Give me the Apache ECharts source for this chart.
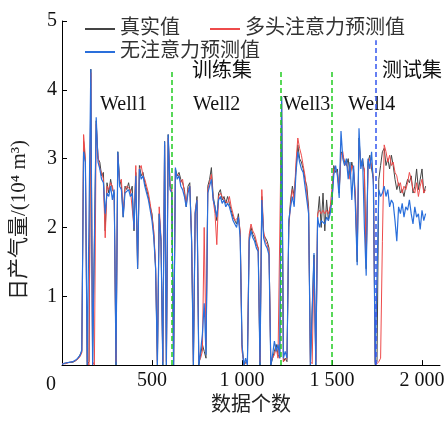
<!DOCTYPE html>
<html>
<head>
<meta charset="utf-8">
<script src="https://cdn.jsdelivr.net/npm/echarts@6/dist/echarts.min.js"></script>
<style>
    html, body { margin: 0; padding: 0; background: #fff; }
    #chart { width: 448px; height: 421px; }
</style>
</head>
<body>
<div id="chart"></div>
<script>
    // 采样间隔(数据个数)
    var sampleStep = 10;

    // 真实值
    var realData = [
        0.02, 0.02, 0.03, 0.02, 0.04, 0.05, 0.04, 0.06, 0.07, 0.1,
        0.12, 0.2, 3.25, 2.95, 0, 0.05, 4.3, 0.02, 0.03, 3.55,
        3.0, 2.95, 2.75, 2.8, 1.95, 2.65, 2.5, 2.7, 2.55, 2.5,
        0, 3.1, 2.7, 2.6, 2.15, 2.6, 2.55, 2.65, 2.5, 2.6,
        1.95, 2.8, 1.4, 2.9, 2.75, 2.8, 2.65, 2.55, 2.45, 2.3,
        2.2, 1.9, 1.4, 0, 2.2, 1.8, 0, 3.25, 0, 3.35,
        2.6, 2.55, 0, 2.85, 2.75, 2.8, 2.7, 2.65, 2.55, 2.3,
        2.6, 2.65, 1.8, 0, 2.2, 2.45, 0, 0.15, 0.3, 0.2,
        0.1, 2.6, 2.7, 2.87, 2.45, 2.3, 2.1, 2.5, 2.55, 2.4,
        2.45, 2.35, 2.45, 2.35, 2.25, 2.15, 2.1, 2.05, 2.2, 1.9,
        0.3, 0, 0.05, 0.02, 1.85, 2.0, 1.9, 1.85, 1.75, 1.7,
        0, 2.45, 1.9, 1.85, 1.8, 1.7, 0, 0.1, 0.2, 0.3,
        0.15, 0.1, 3.9, 0.05, 0.1, 0.05, 2.05, 2.4, 2.6, 2.45,
        2.85, 3.2, 3.0, 2.95, 2.85, 2.7, 2.6, 2.3, 0, 0,
        1.6, 0, 2.15, 2.45, 2.0, 2.5, 1.95, 2.4, 2.1, 2.3,
        2.35, 2.9, 2.8, 2.85, 2.5, 3.1, 3.05, 2.95, 2.9, 3.0,
        2.75, 2.95, 2.8, 2.4, 1.5, 3.3, 2.9, 3.0, 2.8, 1.4,
        2.95, 3.05, 2.85, 2.7, 0, 0.05, 2.7, 2.9, 3.1, 3.15,
        2.9, 3.0, 2.85, 3.05, 2.9, 2.7, 2.55, 2.65, 2.5, 2.55,
        2.45, 2.6, 2.7, 2.65, 2.75, 2.5, 2.6, 2.85, 2.55, 2.7,
        2.85, 2.5, 2.6
    ];

    // 多头注意力预测值
    var attnData = [
        0.02, 0.03, 0.02, 0.03, 0.04, 0.04, 0.05, 0.06, 0.07, 0.09,
        0.12, 0.18, 3.35, 3.0, 0.05, 0, 4.25, 0.05, 0, 3.5,
        3.05, 2.85, 2.8, 2.7, 1.85, 2.6, 2.55, 2.65, 2.6, 2.45,
        0.05, 3.05, 2.65, 2.7, 2.2, 2.55, 2.6, 2.6, 2.55, 2.55,
        2.0, 2.9, 1.45, 2.85, 2.9, 2.75, 2.7, 2.6, 2.5, 2.35,
        2.15, 1.95, 1.45, 0.05, 2.3, 1.85, 0.05, 3.2, 0.05, 3.3,
        2.65, 2.5, 0.05, 2.8, 2.8, 2.75, 2.65, 2.7, 2.5, 2.35,
        2.55, 2.6, 1.85, 0.05, 2.25, 2.4, 0.05, 0.1, 0.2, 2.0,
        0.3, 2.55, 2.65, 2.77, 2.4, 2.2, 1.75, 2.45, 2.5, 2.45,
        2.4, 2.4, 2.35, 2.45, 2.3, 2.2, 2.1, 2.1, 2.15, 1.95,
        0.2, 0.05, 0.02, 0.05, 1.9, 2.05, 1.95, 1.9, 1.8, 1.7,
        0.05, 2.55, 1.95, 1.8, 1.75, 1.65, 0.05, 0.1, 0.15, 0.25,
        0.1, 0.1, 3.8, 0.05, 0.05, 0.1, 2.0, 2.35, 2.55, 2.4,
        2.95, 3.3, 3.15, 3.05, 2.9, 2.75, 2.5, 2.25, 0.05, 0.02,
        1.55, 0.05, 2.2, 2.25, 2.2, 2.25, 2.2, 2.25, 2.2, 2.3,
        2.3, 2.85, 2.85, 2.8, 2.55, 3.05, 3.1, 2.9, 2.95, 2.95,
        2.7, 2.9, 2.85, 2.5, 1.6, 3.2, 2.95, 2.95, 2.85, 1.5,
        2.9, 3.0, 2.9, 2.75, 0.05, 0.02, 0.05, 0.1, 1.8, 3.2,
        3.1, 2.95, 3.05, 2.9, 2.95, 2.8, 2.75, 2.6, 2.65, 2.5,
        2.6, 2.55, 2.65, 2.8, 2.7, 2.55, 2.5, 2.65, 2.45, 2.6,
        2.7, 2.5, 2.55
    ];

    // 无注意力预测值
    var noAttnData = [
        0.01, 0.02, 0.03, 0.04, 0.04, 0.06, 0.05, 0.07, 0.08, 0.1,
        0.14, 0.22, 3.1, 2.95, 0, 0, 4.3, 0, 0.02, 3.6,
        2.95, 2.85, 2.7, 2.65, 2.2, 2.5, 2.45, 2.6, 2.4, 2.55,
        0, 3.1, 2.6, 2.55, 2.15, 2.5, 2.5, 2.55, 2.45, 2.5,
        1.97, 2.75, 1.4, 2.85, 2.7, 2.75, 2.6, 2.5, 2.4, 2.25,
        2.1, 1.85, 1.4, 0, 2.2, 1.8, 0, 3.25, 0, 3.35,
        2.55, 2.5, 0, 2.87, 2.7, 2.75, 2.6, 2.55, 2.45, 2.3,
        2.5, 2.6, 1.8, 0, 2.2, 2.4, 0, 0.2, 0.45, 0.9,
        0.15, 2.5, 2.6, 2.7, 2.4, 2.3, 2.15, 2.4, 2.45, 2.35,
        2.4, 2.3, 2.35, 2.3, 2.2, 2.1, 2.05, 2.0, 2.15, 1.85,
        0.3, 0, 0.1, 0, 1.8, 1.95, 1.85, 1.8, 1.7, 1.65,
        0, 2.4, 1.85, 1.75, 1.7, 1.6, 0, 0.15, 0.35, 0.2,
        0.3, 0.1, 3.9, 0.1, 0.2, 0.1, 2.1, 2.3, 2.45, 2.3,
        2.8, 3.1, 2.95, 2.85, 2.8, 2.6, 2.4, 2.2, 0, 0,
        1.63, 0, 2.15, 2.0, 2.1, 2.1, 2.05, 2.15, 2.1, 2.2,
        2.4, 2.76, 2.9, 2.75, 2.43, 3.4, 3.0, 2.9, 3.0, 2.7,
        2.95, 2.4, 2.9, 2.3, 1.45, 3.44, 2.85, 3.0, 2.0, 1.3,
        3.0, 2.85, 3.1, 2.6, 0.02, 0, 2.55, 2.45, 2.5, 2.6,
        2.45, 2.55, 2.3, 2.4, 2.35, 2.1, 1.8, 2.3, 2.2, 2.35,
        2.15, 2.3, 2.25, 2.4, 2.2, 2.05, 2.3, 2.15, 2.2, 1.97,
        2.25, 2.1, 2.2
    ];

    // 分段线位置: 训练集井分界 / 测试集分界
    var trainSplits = [608, 1217, 1500];
    var testSplit = 1745;
    var xTicks = [0, 500, 1000, 1500, 2000];

    var fontFamily = 'Times New Roman, Liberation Serif, Noto Sans CJK SC, serif';

    function toPairs(arr) {
        return arr.map(function(v, i) {
            return [i * sampleStep, v];
        });
    }

    function vLine(x, top, color) {
        return [{ coord: [x, 0], lineStyle: { color: color } }, { coord: [x, top] }];
    }

    function label(text, left, top) {
        return { type: 'text', left: left, top: top, style: { text: text, font: '20px ' + fontFamily, fill: '#111' } };
    }

    var chart = echarts.init(document.getElementById('chart'));

    var splitLines = trainSplits.map(function(x) {
        return vLine(x, 4.27, '#22cc22');
    });
    splitLines.push(vLine(testSplit, 4.72, '#3355ee'));

    var legendText = { fontSize: 20, color: '#333', fontFamily: fontFamily };

    var option = {
        animation: false,
        color: ['#444444', '#ee4b4b', '#2a6fdb'],
        textStyle: { fontFamily: fontFamily },
        grid: { left: 62, right: 8, top: 21, bottom: 50 },
        legend: [{
            data: ['真实值', '多头注意力预测值'],
            left: 80,
            top: 14,
            itemWidth: 30,
            itemHeight: 2,
            itemGap: 30,
            icon: 'rect',
            textStyle: legendText
        }, {
            data: ['无注意力预测值'],
            left: 80,
            top: 37,
            itemWidth: 30,
            itemHeight: 2,
            icon: 'rect',
            textStyle: legendText
        }],
        xAxis: {
            type: 'value',
            min: 0,
            max: 2100,
            interval: 500,
            name: '数据个数',
            nameLocation: 'middle',
            nameGap: 27,
            nameTextStyle: { fontSize: 20, color: '#222', verticalAlign: 'top', fontFamily: fontFamily },
            axisLine: { lineStyle: { color: '#000', width: 1 } },
            axisTick: { inside: true, length: 5, customValues: xTicks, lineStyle: { color: '#000' } },
            axisLabel: {
                customValues: xTicks.slice(1),
                fontSize: 20,
                fontFamily: fontFamily,
                color: '#111',
                margin: 6,
                formatter: function(v) {
                    return v >= 1000 ? Math.floor(v / 1000) + ' ' + String(v % 1000).padStart(3, '0') : String(v);
                }
            },
            splitLine: { show: false }
        },
        yAxis: {
            type: 'value',
            min: 0,
            max: 5,
            interval: 1,
            axisLine: { show: true, lineStyle: { color: '#000', width: 1 } },
            axisTick: { show: true, inside: true, length: 5, lineStyle: { color: '#000' } },
            axisLabel: {
                fontSize: 20,
                fontFamily: fontFamily,
                color: '#111',
                margin: 5,
                formatter: function(v) {
                    return v === 0 ? '' : String(v);
                }
            },
            splitLine: { show: false }
        },
        series: [{
            name: '真实值',
            type: 'line',
            data: toPairs(realData),
            showSymbol: false,
            lineStyle: { width: 1 }
        }, {
            name: '多头注意力预测值',
            type: 'line',
            data: toPairs(attnData),
            showSymbol: false,
            lineStyle: { width: 1 }
        }, {
            name: '无注意力预测值',
            type: 'line',
            data: toPairs(noAttnData),
            showSymbol: false,
            lineStyle: { width: 1.2 },
            markLine: {
                silent: true,
                symbol: ['none', 'none'],
                label: { show: false },
                lineStyle: { type: [5, 3], width: 1.5 },
                data: splitLines
            }
        }],
        graphic: [
            // y轴标题
            {
                type: 'text',
                x: 19,
                y: 220,
                rotation: Math.PI / 2,
                style: {
                    text: '日产气量/(10⁴ m³)',
                    font: '21px ' + fontFamily,
                    fill: '#222',
                    align: 'center',
                    verticalAlign: 'middle'
                }
            },
            label('0', 46, 375),
            label('训练集', 192, 62),
            label('测试集', 382, 62),
            label('Well1', 100, 95),
            label('Well2', 193, 95),
            label('Well3', 283, 95),
            label('Well4', 348, 95)
        ]
    };

    chart.setOption(option);
</script>
</body>
</html>
